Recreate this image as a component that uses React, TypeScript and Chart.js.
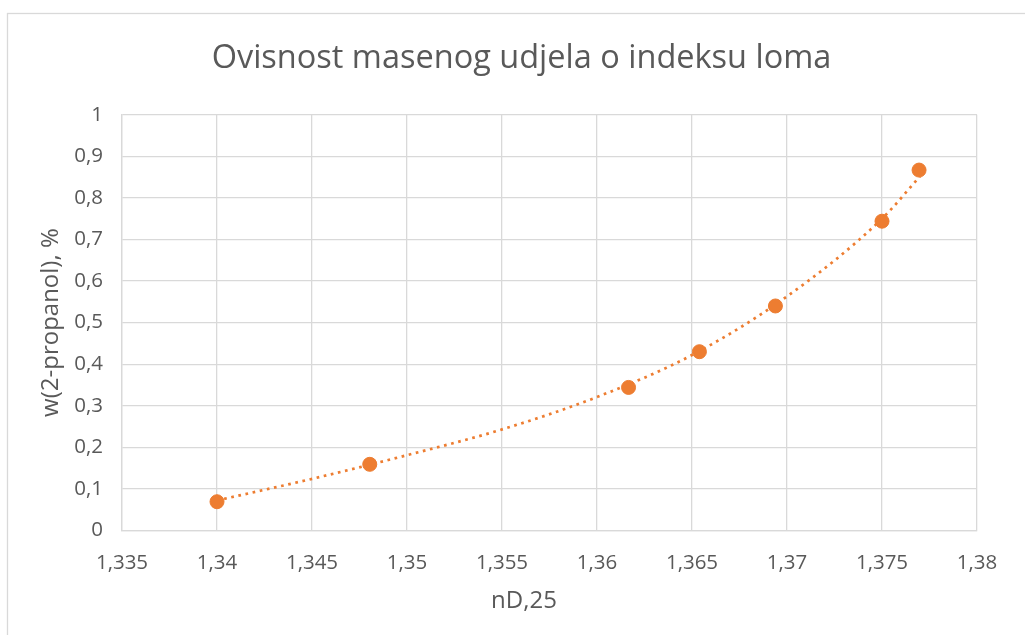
import React, { useEffect, useRef } from "react";
import { Chart, registerables } from "chart.js";

Chart.register(...registerables);

const chartTitle = "Ovisnost masenog udjela o indeksu loma";
const xAxisTitle = "nD,25";
const yAxisTitle = "w(2-propanol), %";

const refractiveIndex = [1.34, 1.34804, 1.36166, 1.36539, 1.36939, 1.375, 1.37695];
const massFraction = [0.069, 0.159, 0.344, 0.43, 0.54, 0.744, 0.867];

const trendX = [1.34, 1.345, 1.35, 1.355, 1.36, 1.365, 1.37, 1.375, 1.377];
const trendY = [0.072, 0.124, 0.181, 0.243, 0.321, 0.422, 0.563, 0.75, 0.852];

const xTickLabels = ["1,335", "1,34", "1,345", "1,35", "1,355", "1,36", "1,365", "1,37", "1,375", "1,38"];
const yTickLabels = ["0", "0,1", "0,2", "0,3", "0,4", "0,5", "0,6", "0,7", "0,8", "0,9", "1"];

const W = 1025;
const H = 635;
const FONT = "'Open Sans', 'Liberation Sans', sans-serif";
const TEXT = "#595959";
const GRID = "#d9d9d9";
const ORANGE = "#ED7D31";

const framePlugin = {
  id: "frame",
  beforeDraw(chart: any) {
    const ctx = chart.ctx;
    ctx.save();
    ctx.fillStyle = "#ffffff";
    ctx.fillRect(0, 0, chart.width, chart.height);
    ctx.strokeStyle = GRID;
    ctx.lineWidth = 1.3;
    ctx.strokeRect(7.5, 13.5, 1100, 700);
    ctx.restore();
  },
  afterDraw(chart: any) {
    const ctx = chart.ctx;
    ctx.save();
    ctx.fillStyle = TEXT;
    ctx.textAlign = "center";
    ctx.textBaseline = "middle";
    ctx.font = `32.5px ${FONT}`;
    ctx.fillText(chartTitle, 521.5, 58.5);
    ctx.font = `24px ${FONT}`;
    ctx.fillText(xAxisTitle, 524, 601.6);
    ctx.restore();
  },
};

export default function App() {
  const ref = useRef<HTMLCanvasElement | null>(null);

  useEffect(() => {
    if (!ref.current) return;
    const chart = new Chart(ref.current, {
      type: "scatter",
      data: {
        datasets: [
          {
            label: "w",
            data: refractiveIndex.map((x, i) => ({ x, y: massFraction[i] })),
            backgroundColor: ORANGE,
            borderColor: ORANGE,
            pointRadius: 7,
            pointHoverRadius: 7,
            showLine: false,
            order: 0,
          },
          {
            label: "trend",
            data: trendX.map((x, i) => ({ x, y: trendY[i] })),
            borderColor: ORANGE,
            backgroundColor: ORANGE,
            borderWidth: 2.7,
            borderDash: [2.7, 4.6],
            pointRadius: 0,
            showLine: true,
            cubicInterpolationMode: "monotone",
            order: 1,
          } as any,
        ],
      },
      options: {
        responsive: false,
        animation: false,
        layout: { padding: { left: 0, right: 48, top: 114.8, bottom: 0 } },
        plugins: {
          legend: { display: false },
          tooltip: { enabled: false },
          title: { display: false },
        },
        scales: {
          x: {
            type: "linear",
            min: 1.335,
            max: 1.38,
            ticks: {
              stepSize: 0.005,
              color: TEXT,
              padding: 20,
              font: { family: FONT, size: 20.5, lineHeight: 1.2 },
              maxRotation: 0,
              autoSkip: false,
              callback: (_v: any, i: number) => xTickLabels[i],
            },
            grid: { color: GRID, lineWidth: 1.3, drawTicks: false },
            border: { color: GRID, width: 1.3 },
            title: { display: false },
            afterFit: (s: any) => {
              s.height = H - 530.4;
            },
          },
          y: {
            type: "linear",
            min: 0,
            max: 1,
            ticks: {
              stepSize: 0.1,
              color: TEXT,
              padding: 19,
              font: { family: FONT, size: 20.5, lineHeight: 1.2 },
              autoSkip: false,
              callback: (_v: any, i: number) => yTickLabels[i],
            },
            grid: { color: GRID, lineWidth: 1.3, drawTicks: false },
            border: { color: GRID, width: 1.3 },
            title: {
              display: true,
              text: yAxisTitle,
              color: TEXT,
              font: { family: FONT, size: 24, lineHeight: 1.2 },
              padding: { top: 37, bottom: 0 },
            },
            afterFit: (s: any) => {
              s.width = 122;
            },
          },
        },
      },
      plugins: [framePlugin],
    });
    return () => chart.destroy();
  }, []);

  return (
    <div style={{ position: "absolute", left: 0, top: 0, width: W, height: H, overflow: "hidden" }}>
      <canvas ref={ref} width={W} height={H} style={{ display: "block" }} />
    </div>
  );
}
